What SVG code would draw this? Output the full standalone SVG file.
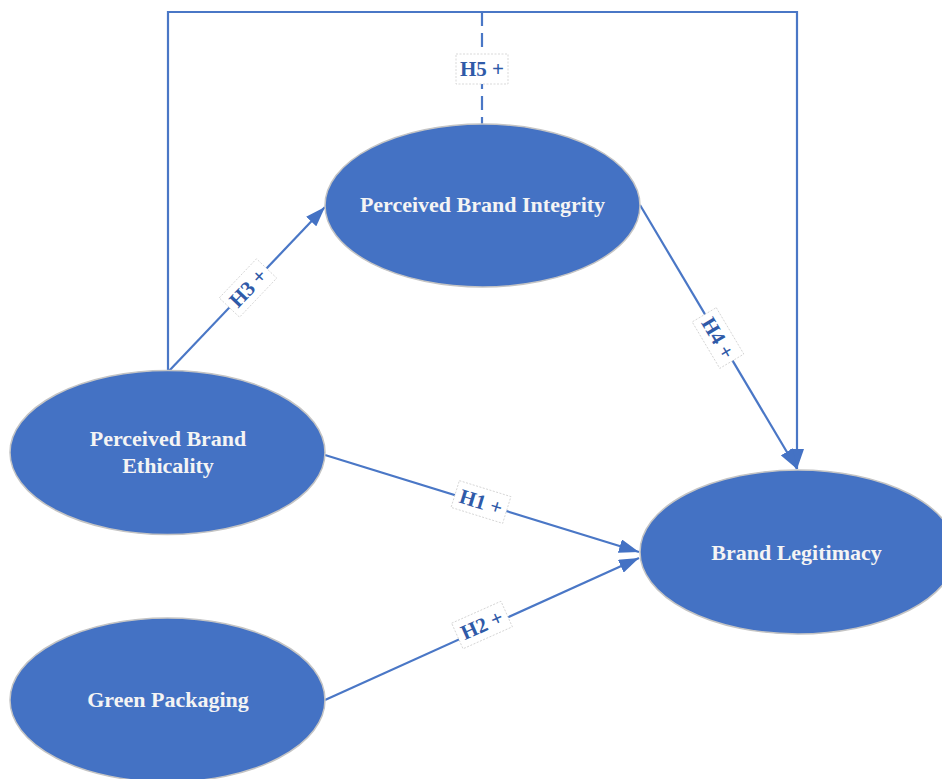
<svg xmlns="http://www.w3.org/2000/svg" width="942" height="779" viewBox="0 0 942 779">
  <defs>
    <style>
      .node { fill: #4472C4; stroke: #c4c4c4; stroke-width: 1.5; }
      .ntext { font-family: "Liberation Serif", "Times New Roman", serif; font-weight: bold; font-size: 22px; fill: #F4F4F4; text-anchor: middle; }
      .conn { fill: none; stroke: #4a77c6; stroke-width: 2.2; }
      .dash { stroke-dasharray: 14 7; }
      .lbox { fill: #ffffff; stroke: #cfcfcf; stroke-width: 0.8; stroke-dasharray: 2 1.5; }
      .ltext { font-family: "Liberation Serif", "Times New Roman", serif; font-weight: bold; font-size: 21px; fill: #2F5AA8; text-anchor: middle; }
    </style>
    <marker id="arrow" viewBox="0 0 20 14" refX="20" refY="7" markerWidth="20" markerHeight="14" markerUnits="userSpaceOnUse" orient="auto">
      <path d="M0,0 L20,7 L0,14 z" fill="#4472C4"/>
    </marker>
  </defs>
  <rect width="942" height="779" fill="#ffffff"/>

  <g id="connectors">
    <polyline class="conn" points="168,372 168,12 797,12 797,469" marker-end="url(#arrow)"/>
    <line class="conn dash" x1="482" y1="12" x2="482" y2="124"/>
    <line class="conn" x1="168" y1="372" x2="325" y2="207" marker-end="url(#arrow)"/>
    <line class="conn" x1="640" y1="205" x2="797" y2="469" marker-end="url(#arrow)"/>
    <line class="conn" x1="325" y1="455" x2="639" y2="552" marker-end="url(#arrow)"/>
    <line class="conn" x1="325" y1="700" x2="639" y2="558" marker-end="url(#arrow)"/>

    <g id="label-h5" transform="translate(482,69)">
      <rect class="lbox" x="-26" y="-15" width="52" height="30"/>
      <text class="ltext" x="0" y="7">H5 +</text>
    </g>
    <g id="label-h3" transform="translate(248,288) rotate(-46.4)">
      <rect class="lbox" x="-27" y="-14" width="54" height="28"/>
      <text class="ltext" x="0" y="7">H3 +</text>
    </g>
    <g id="label-h4" transform="translate(718,338) rotate(59.3)">
      <rect class="lbox" x="-27" y="-14" width="54" height="28"/>
      <text class="ltext" x="0" y="7">H4 +</text>
    </g>
    <g id="label-h1" transform="translate(481,502) rotate(17.2)">
      <rect class="lbox" x="-27" y="-14" width="54" height="28"/>
      <text class="ltext" x="0" y="7">H1 +</text>
    </g>
    <g id="label-h2" transform="translate(482,625) rotate(-24)">
      <rect class="lbox" x="-27" y="-14" width="54" height="28"/>
      <text class="ltext" x="0" y="7">H2 +</text>
    </g>
  </g>

  <g id="node-integrity">
    <ellipse class="node" cx="482.5" cy="205.5" rx="157.5" ry="81.5"/>
    <text class="ntext" x="482.5" y="212">Perceived Brand Integrity</text>
  </g>
  <g id="node-ethicality">
    <ellipse class="node" cx="167.5" cy="452.5" rx="157.5" ry="82"/>
    <text class="ntext" x="168" y="446">Perceived Brand</text>
    <text class="ntext" x="168" y="473">Ethicality</text>
  </g>
  <g id="node-legitimacy">
    <ellipse class="node" cx="798" cy="552" rx="158" ry="82"/>
    <text class="ntext" x="796.5" y="560">Brand Legitimacy</text>
  </g>
  <g id="node-green">
    <ellipse class="node" cx="167.5" cy="700" rx="157.5" ry="82"/>
    <text class="ntext" x="168" y="707">Green Packaging</text>
  </g>
</svg>
